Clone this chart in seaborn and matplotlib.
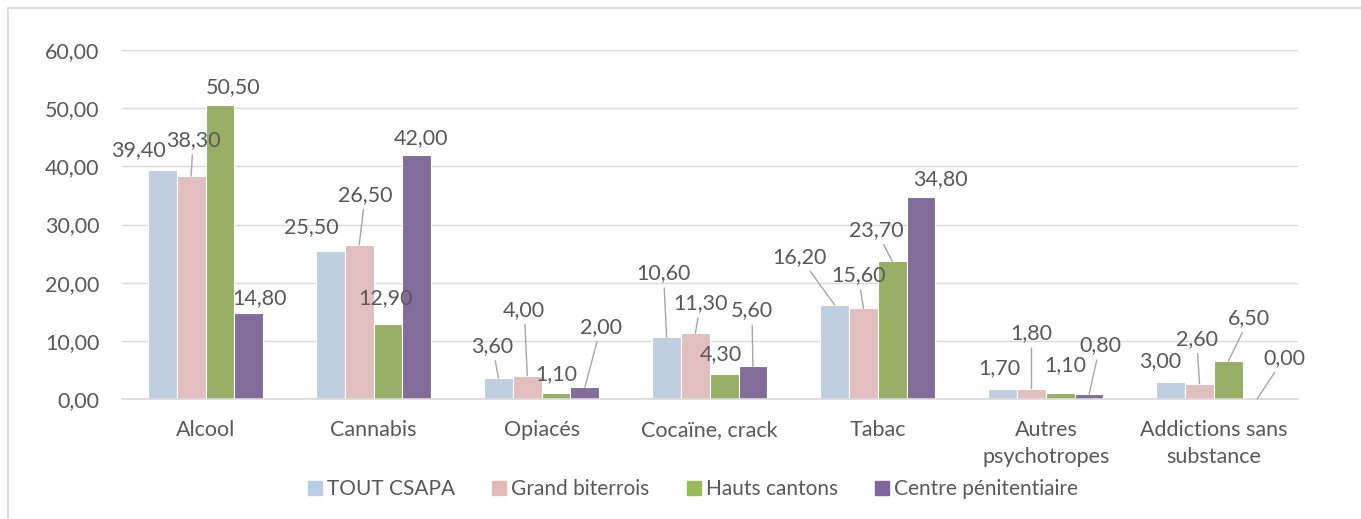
import numpy as np
import pandas as pd
import matplotlib
matplotlib.use("Agg")
import matplotlib.pyplot as plt
from matplotlib.lines import Line2D
from matplotlib.ticker import FuncFormatter
import seaborn as sns

# --------------------------
# Data
# --------------------------
categories = ["Alcool", "Cannabis", "Opiacés", "Cocaïne, crack", "Tabac",
              "Autres\npsychotropes", "Addictions sans\nsubstance"]
series = ["TOUT CSAPA", "Grand biterrois", "Hauts cantons", "Centre pénitentiaire"]

tout_csapa = [39.4, 25.5, 3.6, 10.6, 16.2, 1.7, 3.0]
grand_biterrois = [38.3, 26.5, 4.0, 11.3, 15.6, 1.8, 2.6]
hauts_cantons = [50.5, 12.9, 1.1, 4.3, 23.7, 1.1, 6.5]
centre_penit = [14.8, 42.0, 2.0, 5.6, 34.8, 0.8, 0.0]

colors = ["#B9CDE5", "#E6B9B8", "#9BBB59", "#8064A2"]

# label offsets (pixels from bar top) and whether a leader line is drawn
label_offsets = [
    [(-24, 20), (-19, 24), (-6, 32), (-3, 64), (-35, 48), (-3, 21), (-11, 20)],
    [(2, 36), (6, 50), (-3, 66), (5, 30), (-5, 33), (0, 55), (-3, 45)],
    [(13, 18), (-2, 26), (0, 19), (-3, 20), (-16, 31), (5, 28), (21, 43)],
    [(11, 15), (4, 17), (16, 60), (-1, 56), (19, 17), (11, 49), (27, 41)],
]
leaders = [
    [0, 0, 1, 1, 1, 0, 0],
    [1, 1, 1, 1, 1, 1, 1],
    [0, 0, 0, 0, 1, 0, 1],
    [0, 0, 1, 1, 0, 1, 1],
]

values = [tout_csapa, grand_biterrois, hauts_cantons, centre_penit]
df = pd.DataFrame({
    "categorie": np.tile(categories, len(series)),
    "serie": np.repeat(series, len(categories)),
    "valeur": np.concatenate(values),
})

# --------------------------
# Plot
# --------------------------
sns.set_theme(style="white")
plt.rcParams["font.family"] = ["Lato", "DejaVu Sans"]
text_col = "#595959"

fig = plt.figure(figsize=(13.61, 5.19), dpi=100)
ax = fig.add_axes([121.5 / 1361, 1 - 399 / 519, (1298 - 121.5) / 1361, 349 / 519])

sns.barplot(data=df, x="categorie", y="valeur", hue="serie", palette=colors,
            width=0.685, edgecolor="white", linewidth=0.8, ax=ax, legend=False)

ax.set_ylim(0, 60)
ax.set_yticks(np.arange(0, 61, 10))
ax.yaxis.set_major_formatter(FuncFormatter(lambda v, p: f"{v:.2f}".replace(".", ",")))
ax.grid(axis="y", color="#D9D9D9", lw=1)
ax.set_axisbelow(True)
for s in ["top", "right", "left"]:
    ax.spines[s].set_visible(False)
ax.spines["bottom"].set_color("#D9D9D9")
ax.spines["bottom"].set_linewidth(1.2)
ax.tick_params(axis="y", length=0, pad=16, labelsize=15.5, labelcolor=text_col)
ax.tick_params(axis="x", length=0, pad=15, labelsize=15.5, labelcolor=text_col)
for t in ax.get_xticklabels():
    t.set_linespacing(1.45)
ax.set_xlabel("")
ax.set_ylabel("")

# data labels
for si, cont in enumerate(ax.containers):
    for ci, bar in enumerate(cont):
        v = values[si][ci]
        xb = bar.get_x() + bar.get_width() / 2
        dx, dy = label_offsets[si][ci]
        arrow = dict(arrowstyle="-", color="#A6A6A6", lw=1, shrinkA=1, shrinkB=0) if leaders[si][ci] else None
        ax.annotate(f"{v:.2f}".replace(".", ","), xy=(xb, v), xytext=(dx, dy),
                    textcoords="offset pixels", ha="center", va="center",
                    fontsize=15.5, color=text_col, arrowprops=arrow,
                    annotation_clip=False)

# legend
handles = [plt.Rectangle((0, 0), 1, 1, color=c) for c in colors]
fig.legend(handles, series, loc="center", bbox_to_anchor=(693 / 1361, 1 - 489 / 519),
           ncol=4, frameon=False, fontsize=15, handlelength=0.67, handleheight=0.67,
           handletextpad=0.25, columnspacing=1.78, labelcolor=text_col)

# chart border (left and top visible)
fig.add_artist(Line2D([8 / 1361, 8 / 1361], [0, 1 - 8 / 519], color="#D9D9D9", lw=1.2))
fig.add_artist(Line2D([8 / 1361, 1], [1 - 8 / 519, 1 - 8 / 519], color="#D9D9D9", lw=1.2))

fig.savefig("out.png", dpi=100)
